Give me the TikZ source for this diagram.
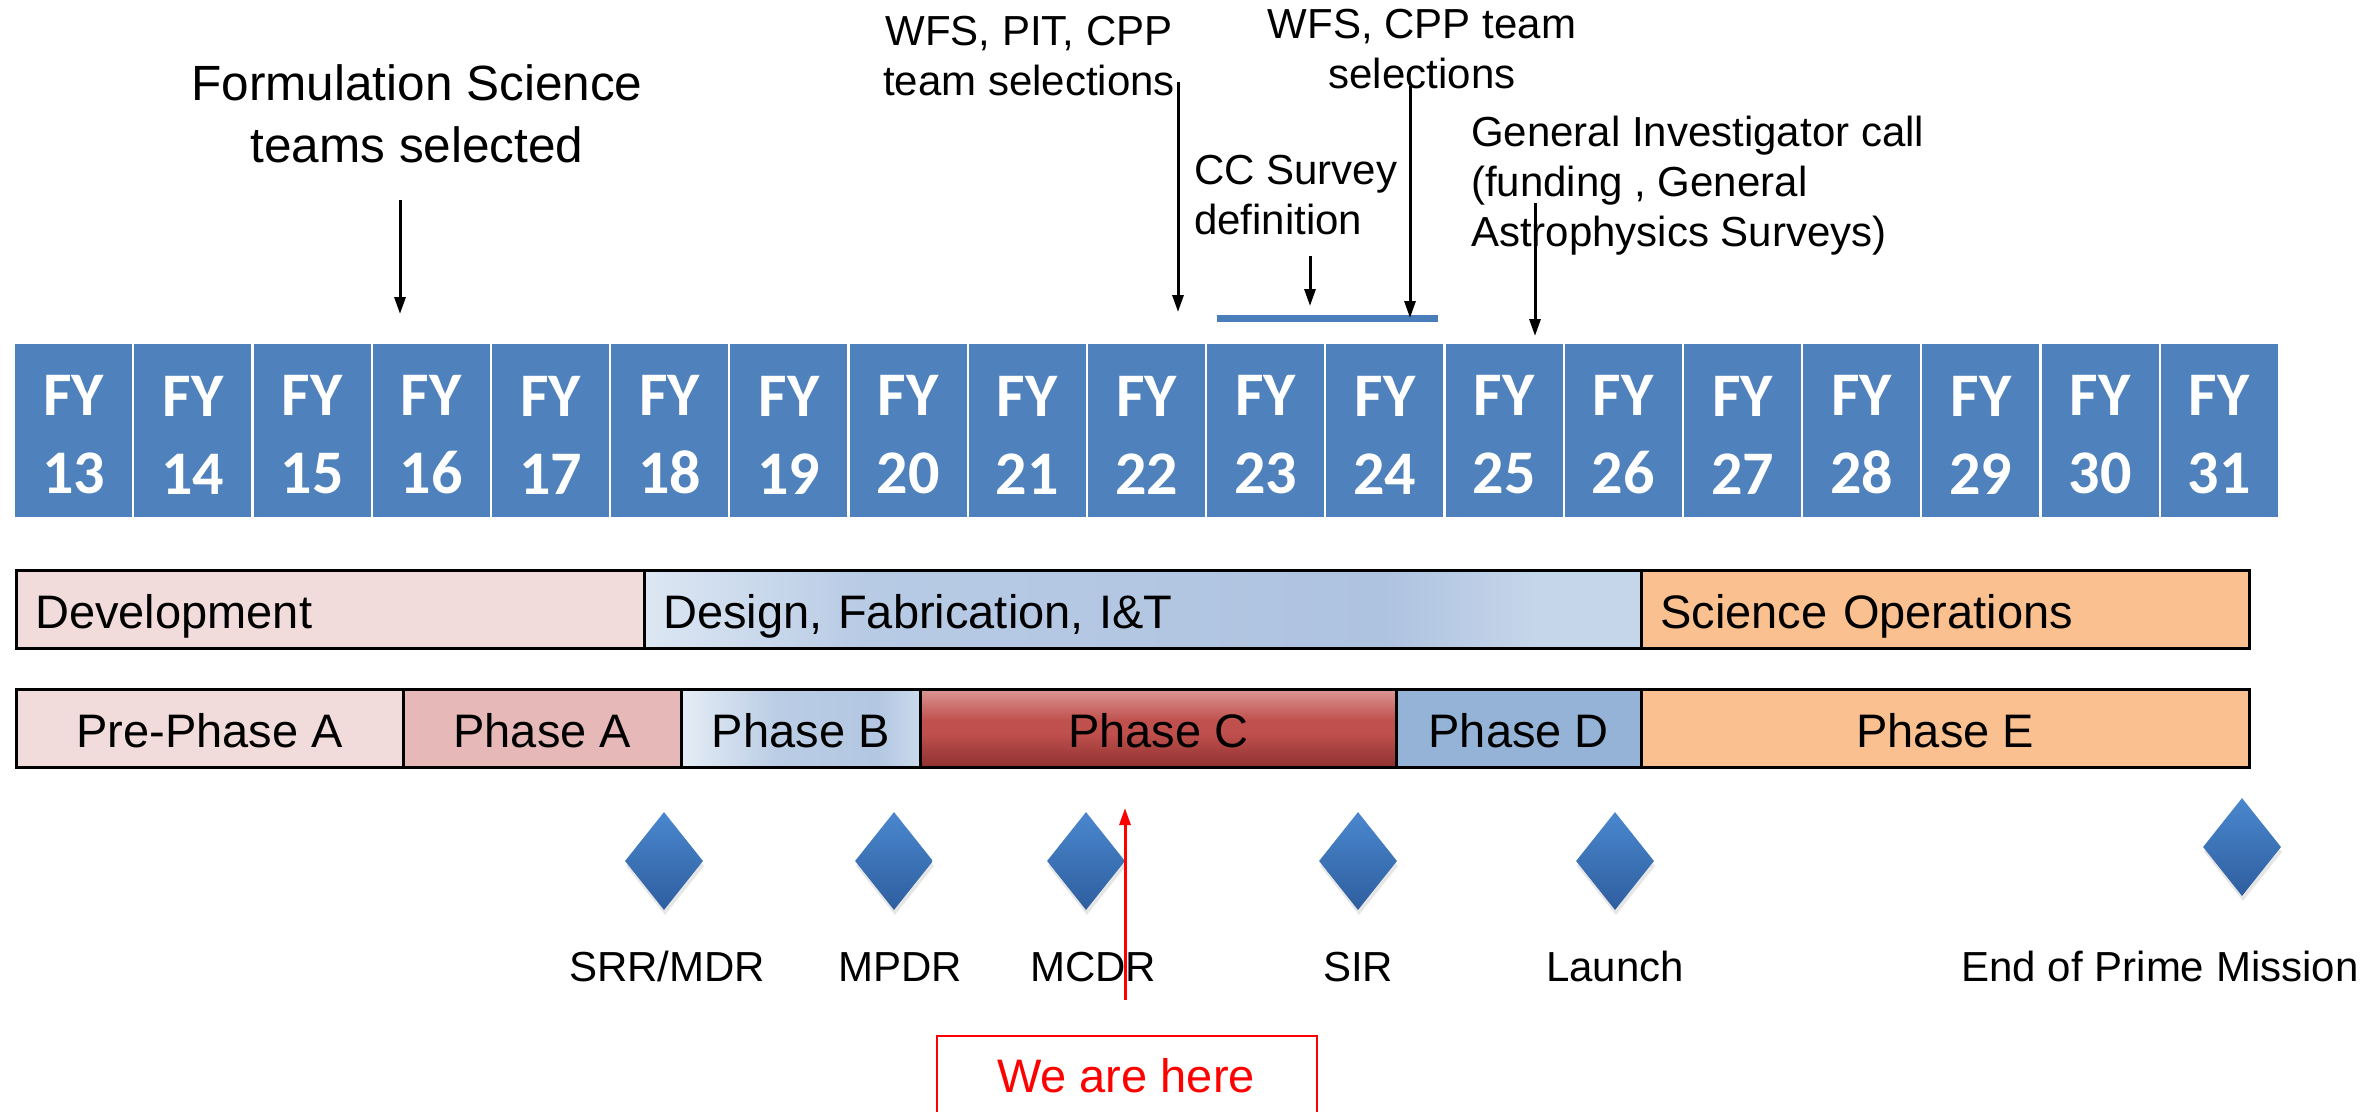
\documentclass[tikz,border=0pt]{standalone}
\usepackage{fontspec}
\setmainfont{Liberation Sans}
\newfontfamily\fyfont{Carlito}
\usetikzlibrary{arrows.meta,shapes.geometric,shadows}
\definecolor{fyblue}{HTML}{4F81BD}
\definecolor{lineblue}{HTML}{4A7EBB}
\definecolor{devpink}{HTML}{F2DCDB}
\definecolor{phaseAcol}{HTML}{E6B9B8}
\definecolor{phaseDcol}{HTML}{95B3D7}
\definecolor{orangeE}{HTML}{FAC090}
\definecolor{dsA}{HTML}{DDE7F3}
\definecolor{dsB}{HTML}{B8CBE5}
\definecolor{dsC}{HTML}{AEC3E0}
\definecolor{dsD}{HTML}{C6D6EA}
\definecolor{pbA}{HTML}{E6EDF6}
\definecolor{pbB}{HTML}{BACDE5}
\definecolor{pbC}{HTML}{B3C7E2}
\definecolor{pbD}{HTML}{CADAEC}
\definecolor{pcTop}{HTML}{DA9794}
\definecolor{pcMid}{HTML}{C0504D}
\definecolor{pcBot}{HTML}{8E3230}
\definecolor{msTop}{HTML}{4A87CE}
\definecolor{msBot}{HTML}{2E5E9F}
\pgfdeclarehorizontalshading{designshade}{100bp}{color(0bp)=(dsA); color(25bp)=(dsA); color(36bp)=(dsB); color(62bp)=(dsC); color(70bp)=(dsD); color(75bp)=(dsD); color(100bp)=(dsD)}
\pgfdeclarehorizontalshading{phaseBshade}{100bp}{color(0bp)=(pbA); color(25bp)=(pbA); color(45bp)=(pbB); color(66bp)=(pbC); color(75bp)=(pbD); color(100bp)=(pbD)}
\pgfdeclareverticalshading{phaseCshade}{100bp}{color(0bp)=(pcBot); color(25bp)=(pcBot); color(47bp)=(pcMid); color(55bp)=(pcMid); color(75bp)=(pcTop); color(100bp)=(pcTop)}
\tikzset{
  fy/.style={rectangle, fill=fyblue, minimum width=117pt, minimum height=173pt, inner sep=0pt,
    anchor=north west, text=white, align=center, font=\fyfont\bfseries\fontsize{62pt}{78pt}\selectfont},
  bar/.style={rectangle, draw=black, line width=2.5pt, minimum height=78pt, inner ysep=0pt,
    text height=38pt, text depth=0pt, font=\fontsize{47pt}{56pt}\selectfont, anchor=north west},
  barL/.style={bar, align=left, inner xsep=19pt},
  phase/.style={bar, align=center, inner xsep=0pt},
  ann/.style={inner sep=0pt, font=\fontsize{42pt}{50pt}\selectfont},
  arr/.style={line width=3pt, -{Triangle[length=17pt,width=11pt]}},
  redarr/.style={line width=3pt, red, -{Triangle[length=17pt,width=11pt]}},
  ms/.style={diamond, minimum width=78pt, minimum height=98pt, inner sep=0pt, top color=msTop, bottom color=msBot,
    drop shadow={opacity=0.2, shadow xshift=1pt, shadow yshift=-5pt}},
  msl/.style={anchor=base, font=\fontsize{42pt}{50pt}\selectfont}
}
\begin{document}
\begin{tikzpicture}[x=1pt,y=-1pt]
\useasboundingbox (0,0) rectangle (2379,1111);
\clip (0,0) rectangle (2379,1111);
% fiscal years
\foreach \i in {0,...,18} {
  \pgfmathtruncatemacro\yr{13+\i}
  \node[fy] (fy\yr) at ({15+\i*119.2},344) {\rule{0pt}{49pt}FY\\\yr};
}
% annotations
\node[ann, align=center, anchor=north, font=\fontsize{49.5pt}{62pt}\selectfont] (form) at (417,64) {Formulation Science\\teams selected};
\node[ann, align=center, anchor=north] (wfs1) at (1029,16) {WFS, PIT, CPP\\team selections};
\node[ann, align=center, anchor=north] (wfs2) at (1422,9) {WFS, CPP team\\selections};
\node[ann, align=left, anchor=north west] (ccs) at (1194,155) {CC Survey\\definition};
\node[ann, align=left, anchor=north west] (gic) at (1471,116) {General Investigator call\\(funding , General\\Astrophysics Surveys)};
% CC survey period line
\coordinate (ccL) at (1217,318.5);
\coordinate (ccR) at (1438,318.5);
\draw[lineblue, line width=7pt] (ccL) -- (ccR);
% arrows
\coordinate (a1s) at (400,200);  \coordinate (a1e) at (400,314);
\coordinate (a2s) at (1178,82);  \coordinate (a2e) at (1178,312);
\coordinate (a3s) at (1410,86);  \coordinate (a3e) at (1410,318);
\coordinate (a4s) at (1310,256); \coordinate (a4e) at (1310,306);
\coordinate (a5s) at (1535,203); \coordinate (a5e) at (1535,336);
\draw[arr] (a1s) -- (a1e);
\draw[arr] (a2s) -- (a2e);
\draw[arr] (a3s) -- (a3e);
\draw[arr] (a4s) -- (a4e);
\draw[arr] (a5s) -- (a5e);
% row 2
\node[barL, fill=devpink, text width=590pt] (dev) at (15,569) {Development};
\node[barL, shade, shading=designshade, text width=959pt] (dfi) at (643,569) {Design, Fabrication, I\&T};
\node[barL, fill=orangeE, text width=570pt] (sciops) at (1640,569) {Science Operations};
% row 3
\node[phase, fill=devpink, minimum width=387pt] (pre) at (15,688) {Pre-Phase A};
\node[phase, fill=phaseAcol, minimum width=278pt] (pa) at (402,688) {Phase A};
\node[phase, shade, shading=phaseBshade, minimum width=239pt] (pb) at (680,688) {Phase B};
\node[phase, shade, shading=phaseCshade, minimum width=476pt] (pc) at (919,688) {Phase C};
\node[phase, fill=phaseDcol, minimum width=245pt] (pd) at (1395,688) {Phase D};
\node[phase, fill=orangeE, minimum width=608pt] (pe) at (1640,688) {Phase E};
% milestones
\node[ms] (srr) at (664,861) {};
\node[ms] (mpdr) at (894,861) {};
\node[ms] (mcdr) at (1086,861) {};
\node[ms] (sir) at (1358,861) {};
\node[ms] (launch) at (1615,861) {};
\node[ms] (eopm) at (2242,847) {};
\node[msl] (srrl) at (667,981) {SRR/MDR};
\node[msl] (mpdrl) at (900,981) {MPDR};
\node[msl] (mcdrl) at (1093,981) {MCDR};
\node[msl] (sirl) at (1358,981) {SIR};
\node[msl] (launchl) at (1615,981) {Launch};
\node[msl] (eopml) at (2160,981) {End of Prime Mission};
% we are here
\coordinate (rb) at (1125,1000);
\coordinate (rt) at (1125,808);
\draw[redarr] (rb) -- (rt);
\node[draw=red, line width=2pt, minimum width=380pt, minimum height=160pt, anchor=north west, inner sep=0pt] (herebox) at (936,1035) {};
\node[anchor=base, text=red, font=\fontsize{47pt}{56pt}\selectfont] (here) at (1126,1092) {We are here};
\end{tikzpicture}
\end{document}
